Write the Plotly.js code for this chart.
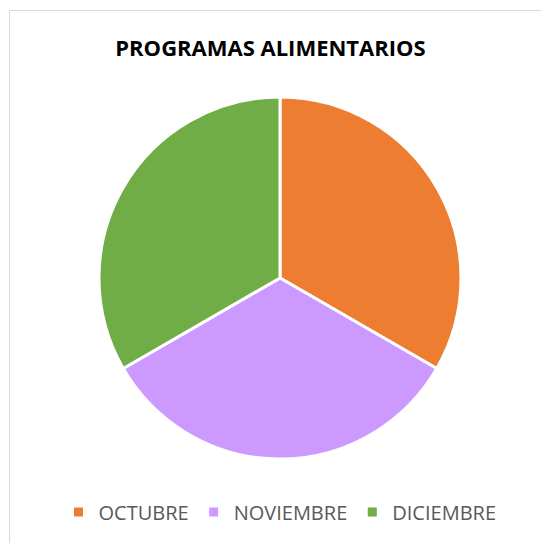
<!DOCTYPE html>
<html><head><meta charset="utf-8">
<script src="https://cdn.plot.ly/plotly-3.0.1.min.js"></script>
<style>html,body{margin:0;padding:0;background:#fff;}#chart{width:541px;height:543px;}</style>
</head><body><div id="chart"></div>
<script>
const categories = ["OCTUBRE", "NOVIEMBRE", "DICIEMBRE"];
const values = [1, 1, 1];
const colors = ["#ED7D31", "#CC99FF", "#70AD47"];
const titleText = "PROGRAMAS ALIMENTARIOS";

const W = 541, H = 543;
const data = [{
  type: "pie",
  labels: categories,
  values: values,
  sort: false,
  direction: "clockwise",
  rotation: 0,
  marker: {colors: colors, line: {color: "#ffffff", width: 3}},
  textinfo: "none",
  hoverinfo: "label+percent",
  domain: {x: [99/W, 461/W], y: [1 - 459/H, 1 - 97/H]}
}];
const layout = {
  width: W, height: H,
  margin: {l: 0, r: 0, t: 0, b: 0},
  paper_bgcolor: "#ffffff",
  title: {text: "<b>" + titleText + "</b>", x: 270.5/W, xanchor: "center", y: 1 - 48/H, yanchor: "middle",
          font: {family: "Open Sans, sans-serif", size: 22, color: "#000000"}},
  showlegend: true,
  legend: {orientation: "h", x: 280/W, xanchor: "center", y: 1 - 512/H, yanchor: "middle",
           font: {family: "Open Sans, sans-serif", size: 20, color: "#595959"},
           itemwidth: 30, traceorder: "normal"},
  shapes: [{type: "rect", xref: "paper", yref: "paper", x0: 9.5/W, x1: 1.2, y0: -0.2, y1: 1 - 10.5/H,
            line: {color: "#d9d9d9", width: 1}}]
};
Plotly.newPlot("chart", data, layout, {displayModeBar: false});
</script></body></html>
